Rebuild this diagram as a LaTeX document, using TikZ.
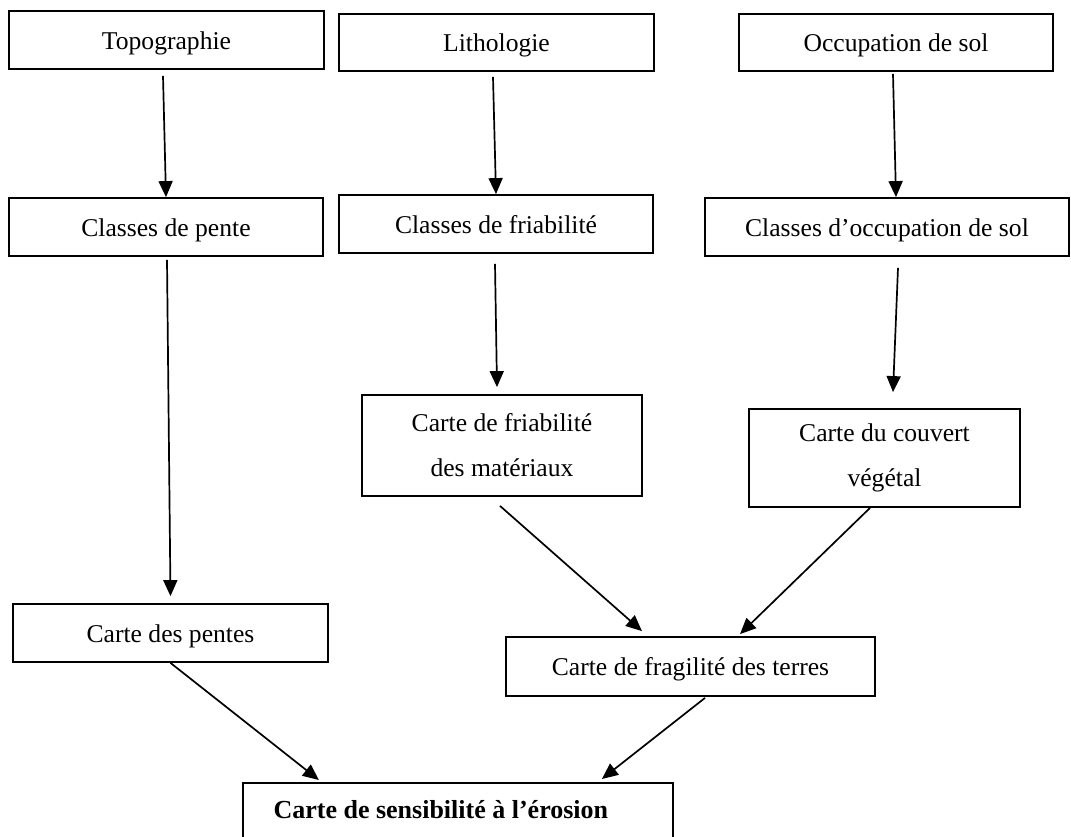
\documentclass[tikz,border=0pt]{standalone}
\usepackage{fontspec}
\setmainfont{Liberation Serif}
\usetikzlibrary{arrows.meta}
\begin{document}
\begin{tikzpicture}[x=1pt,y=-1pt,
  every node/.style={font=\fontsize{25.6}{45}\selectfont},
  box/.style={draw=black, line width=1.8pt, rectangle, inner sep=0pt,
              text height=22pt, text depth=4pt},
  tallbox/.style={draw=black, line width=1.8pt, rectangle, inner sep=0pt, align=center},
  arr/.style={line width=1.7pt, -{Triangle[length=16pt,width=14pt]}}]
\useasboundingbox (0,0) rectangle (1071,836);
\fill[white] (0,0) rectangle (1071,836);

% first row: data sources
\node (topo)  [box, minimum width=315, minimum height=58] at (166.5,40)   {Topographie};
\node (litho) [box, minimum width=315, minimum height=57] at (496.5,42.5) {Lithologie};
\node (occ)   [box, minimum width=314, minimum height=57] at (896,42.5)   {Occupation de sol};

% second row: classes
\node (cpente) [box, minimum width=314, minimum height=58] at (166,227) {Classes de pente};
\node (cfriab) [box, minimum width=314, minimum height=58] at (496,224) {Classes de friabilité};
\node (cocc)   [box, minimum width=364, minimum height=58] at (887,227) {Classes d’occupation de sol};

% third row: thematic maps
\node (cartefriab) [tallbox, minimum width=280, minimum height=101] at (502,445.5)
  {Carte de friabilité\\des matériaux};
\node (couvert) [tallbox, minimum width=271, minimum height=98] at (884.5,458)
  {Carte du couvert\\végétal};

\node (cartepentes) [box, minimum width=315, minimum height=58] at (170.5,633) {Carte des pentes};
\node (fragil) [box, minimum width=369, minimum height=59] at (690.5,666.5) {Carte de fragilité des terres};

% final map
\node (sens) [draw=black, line width=1.8pt, rectangle, inner sep=0pt,
  minimum width=430, minimum height=80, anchor=north west] at (242,782) {};
\node (senstext) [anchor=base west, font=\fontsize{26}{30}\selectfont\bfseries]
  at (270,818) {Carte de sensibilité à l’érosion};

% connectors
\draw[arr] ([xshift=-3.5,yshift=-6]topo.south) -- (cpente.north);
\draw[arr] ([xshift=1,yshift=-3]cpente.south) -- ([yshift=7]cartepentes.north);
\draw[arr] ([xshift=-3.5,yshift=-5]litho.south) -- (cfriab.north);
\draw[arr] ([xshift=-1,yshift=-10]cfriab.south) -- ([xshift=-5,yshift=7]cartefriab.north);
\draw[arr] ([xshift=-3,yshift=-2]occ.south) -- ([xshift=9]cocc.north);
\draw[arr] ([xshift=11,yshift=-11]cocc.south) -- ([xshift=8.5,yshift=16]couvert.north);
\draw[arr] ([xshift=-2,yshift=-9]cartefriab.south) -- ([xshift=-48.5,yshift=5]fragil.north);
\draw[arr] ([xshift=-14.5]couvert.south) -- ([xshift=49.5,yshift=2]fragil.north);
\draw[arr] (cartepentes.south) -- ([xshift=-139,yshift=2]sens.north);
\draw[arr] ([xshift=14.5,yshift=-1]fragil.south) -- ([xshift=144,yshift=3]sens.north);
\end{tikzpicture}
\end{document}
